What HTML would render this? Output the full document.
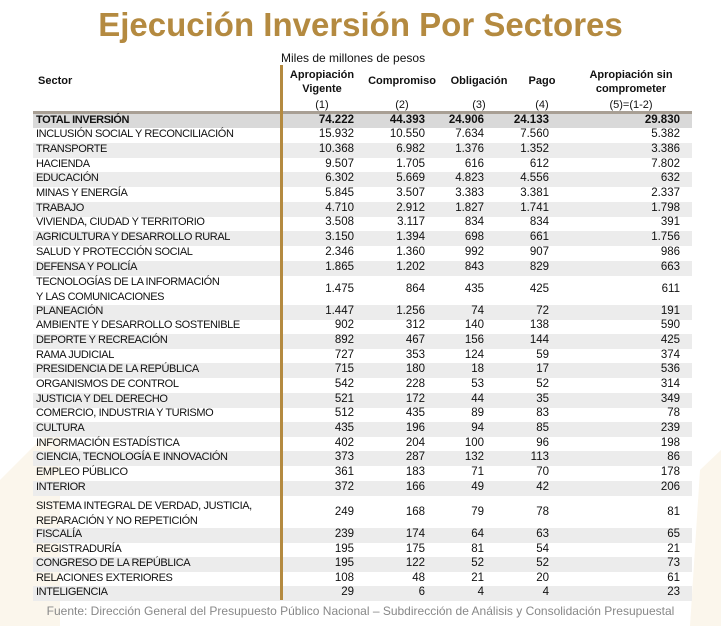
<!DOCTYPE html>
<html><head><meta charset="utf-8"><style>
body{margin:0;width:721px;height:626px;background:#fff;position:relative;overflow:hidden;font-family:"Liberation Sans",Arial,sans-serif;}
.t{position:absolute;left:0;width:721px;top:6px;text-align:center;}
.t span{display:inline-block;font-weight:bold;font-size:33px;color:#b48a40;}
.r{position:absolute;left:33px;width:659px;font-size:11px;color:#111;}
.r div{position:absolute;top:0;}
.n{letter-spacing:-0.4px;left:3px;white-space:nowrap;}
.c1,.c2,.c3,.c4,.c5{text-align:right;width:80px;font-size:11.5px;}
.c1{left:241px}.c2{left:312px}.c3{left:371px}.c4{left:436px}.c5{left:567px}
.g{background:#ececec}
.h{position:absolute;font-size:11px;font-weight:bold;text-align:center;color:#111;}
.p{position:absolute;font-size:11px;text-align:center;color:#111;top:99px;}
</style></head><body>
<svg style="position:absolute;left:0;top:0" width="721" height="626"><path d="M0 480 L60 420 L60 626 L0 626Z" fill="#fbf6ec"/><path d="M700 470 L721 450 L721 626 L690 626Z" fill="#fbf6ec"/></svg>
<div class="t"><span>Ejecución Inversión Por Sectores</span></div>
<div style="position:absolute;left:281px;top:51px;font-size:12px;color:#111">Miles de millones de pesos</div>
<div class="h" style="left:38px;top:75px">Sector</div>
<div class="h" style="left:284px;top:68px;width:76px;line-height:14px">Apropiación<br>Vigente</div>
<div class="h" style="left:362px;top:75px;width:80px">Compromiso</div>
<div class="h" style="left:445px;top:75px;width:68px">Obligación</div>
<div class="h" style="left:517px;top:75px;width:50px">Pago</div>
<div class="h" style="left:576px;top:68px;width:110px;line-height:14px">Apropiación sin<br>comprometer</div>
<div class="p" style="left:284px;width:76px">(1)</div>
<div class="p" style="left:362px;width:80px">(2)</div>
<div class="p" style="left:445px;width:68px">(3)</div>
<div class="p" style="left:517px;width:50px">(4)</div>
<div class="p" style="left:576px;width:110px">(5)=(1-2)</div>
<div style="position:absolute;left:33px;top:111px;width:659px;height:3px;background:#a89f94"></div>
<div style="position:absolute;left:0;width:721px;top:604px;text-align:center;font-size:12px;color:#888">Fuente: Dirección General del Presupuesto Público Nacional – Subdirección de Análisis y Consolidación Presupuestal</div>
<div class="r g" style="top:114px;height:14px;font-weight:bold;background:#d9d9d9"><div class="n">TOTAL INVERSIÓN</div><div class="c1">74.222</div><div class="c2">44.393</div><div class="c3">24.906</div><div class="c4">24.133</div><div class="c5">29.830</div></div>
<div class="r" style="top:128px;height:15px"><div class="n">INCLUSIÓN SOCIAL Y RECONCILIACIÓN</div><div class="c1">15.932</div><div class="c2">10.550</div><div class="c3">7.634</div><div class="c4">7.560</div><div class="c5">5.382</div></div>
<div class="r g" style="top:143px;height:15px"><div class="n">TRANSPORTE</div><div class="c1">10.368</div><div class="c2">6.982</div><div class="c3">1.376</div><div class="c4">1.352</div><div class="c5">3.386</div></div>
<div class="r" style="top:158px;height:15px"><div class="n">HACIENDA</div><div class="c1">9.507</div><div class="c2">1.705</div><div class="c3">616</div><div class="c4">612</div><div class="c5">7.802</div></div>
<div class="r g" style="top:172px;height:15px"><div class="n">EDUCACIÓN</div><div class="c1">6.302</div><div class="c2">5.669</div><div class="c3">4.823</div><div class="c4">4.556</div><div class="c5">632</div></div>
<div class="r" style="top:187px;height:15px"><div class="n">MINAS Y ENERGÍA</div><div class="c1">5.845</div><div class="c2">3.507</div><div class="c3">3.383</div><div class="c4">3.381</div><div class="c5">2.337</div></div>
<div class="r g" style="top:202px;height:15px"><div class="n">TRABAJO</div><div class="c1">4.710</div><div class="c2">2.912</div><div class="c3">1.827</div><div class="c4">1.741</div><div class="c5">1.798</div></div>
<div class="r" style="top:216px;height:15px"><div class="n">VIVIENDA, CIUDAD Y TERRITORIO</div><div class="c1">3.508</div><div class="c2">3.117</div><div class="c3">834</div><div class="c4">834</div><div class="c5">391</div></div>
<div class="r g" style="top:231px;height:15px"><div class="n">AGRICULTURA Y DESARROLLO RURAL</div><div class="c1">3.150</div><div class="c2">1.394</div><div class="c3">698</div><div class="c4">661</div><div class="c5">1.756</div></div>
<div class="r" style="top:246px;height:15px"><div class="n">SALUD Y PROTECCIÓN SOCIAL</div><div class="c1">2.346</div><div class="c2">1.360</div><div class="c3">992</div><div class="c4">907</div><div class="c5">986</div></div>
<div class="r g" style="top:261px;height:15px"><div class="n">DEFENSA Y POLICÍA</div><div class="c1">1.865</div><div class="c2">1.202</div><div class="c3">843</div><div class="c4">829</div><div class="c5">663</div></div>
<div class="r" style="top:275px;height:30px"><div class="n" style="line-height:15px">TECNOLOGÍAS DE LA INFORMACIÓN<br>Y LAS COMUNICACIONES</div><div class="c1" style="top:8px">1.475</div><div class="c2" style="top:8px">864</div><div class="c3" style="top:8px">435</div><div class="c4" style="top:8px">425</div><div class="c5" style="top:8px">611</div></div>
<div class="r g" style="top:305px;height:15px"><div class="n">PLANEACIÓN</div><div class="c1">1.447</div><div class="c2">1.256</div><div class="c3">74</div><div class="c4">72</div><div class="c5">191</div></div>
<div class="r" style="top:319px;height:15px"><div class="n">AMBIENTE Y DESARROLLO SOSTENIBLE</div><div class="c1">902</div><div class="c2">312</div><div class="c3">140</div><div class="c4">138</div><div class="c5">590</div></div>
<div class="r g" style="top:334px;height:15px"><div class="n">DEPORTE Y RECREACIÓN</div><div class="c1">892</div><div class="c2">467</div><div class="c3">156</div><div class="c4">144</div><div class="c5">425</div></div>
<div class="r" style="top:349px;height:15px"><div class="n">RAMA JUDICIAL</div><div class="c1">727</div><div class="c2">353</div><div class="c3">124</div><div class="c4">59</div><div class="c5">374</div></div>
<div class="r g" style="top:363px;height:15px"><div class="n">PRESIDENCIA DE LA REPÚBLICA</div><div class="c1">715</div><div class="c2">180</div><div class="c3">18</div><div class="c4">17</div><div class="c5">536</div></div>
<div class="r" style="top:378px;height:15px"><div class="n">ORGANISMOS DE CONTROL</div><div class="c1">542</div><div class="c2">228</div><div class="c3">53</div><div class="c4">52</div><div class="c5">314</div></div>
<div class="r g" style="top:393px;height:15px"><div class="n">JUSTICIA Y DEL DERECHO</div><div class="c1">521</div><div class="c2">172</div><div class="c3">44</div><div class="c4">35</div><div class="c5">349</div></div>
<div class="r" style="top:407px;height:15px"><div class="n">COMERCIO, INDUSTRIA Y TURISMO</div><div class="c1">512</div><div class="c2">435</div><div class="c3">89</div><div class="c4">83</div><div class="c5">78</div></div>
<div class="r g" style="top:422px;height:15px"><div class="n">CULTURA</div><div class="c1">435</div><div class="c2">196</div><div class="c3">94</div><div class="c4">85</div><div class="c5">239</div></div>
<div class="r" style="top:437px;height:15px"><div class="n">INFORMACIÓN ESTADÍSTICA</div><div class="c1">402</div><div class="c2">204</div><div class="c3">100</div><div class="c4">96</div><div class="c5">198</div></div>
<div class="r g" style="top:451px;height:15px"><div class="n">CIENCIA, TECNOLOGÍA E INNOVACIÓN</div><div class="c1">373</div><div class="c2">287</div><div class="c3">132</div><div class="c4">113</div><div class="c5">86</div></div>
<div class="r" style="top:466px;height:15px"><div class="n">EMPLEO PÚBLICO</div><div class="c1">361</div><div class="c2">183</div><div class="c3">71</div><div class="c4">70</div><div class="c5">178</div></div>
<div class="r g" style="top:481px;height:15px"><div class="n">INTERIOR</div><div class="c1">372</div><div class="c2">166</div><div class="c3">49</div><div class="c4">42</div><div class="c5">206</div></div>
<div class="r" style="top:496px;height:32px"><div class="n" style="top:3px;line-height:15px">SISTEMA INTEGRAL DE VERDAD, JUSTICIA,<br>REPARACIÓN Y NO REPETICIÓN</div><div class="c1" style="top:10px">249</div><div class="c2" style="top:10px">168</div><div class="c3" style="top:10px">79</div><div class="c4" style="top:10px">78</div><div class="c5" style="top:10px">81</div></div>
<div class="r g" style="top:528px;height:15px"><div class="n">FISCALÍA</div><div class="c1">239</div><div class="c2">174</div><div class="c3">64</div><div class="c4">63</div><div class="c5">65</div></div>
<div class="r" style="top:543px;height:14px"><div class="n">REGISTRADURÍA</div><div class="c1">195</div><div class="c2">175</div><div class="c3">81</div><div class="c4">54</div><div class="c5">21</div></div>
<div class="r g" style="top:557px;height:15px"><div class="n">CONGRESO DE LA REPÚBLICA</div><div class="c1">195</div><div class="c2">122</div><div class="c3">52</div><div class="c4">52</div><div class="c5">73</div></div>
<div class="r" style="top:572px;height:14px"><div class="n">RELACIONES EXTERIORES</div><div class="c1">108</div><div class="c2">48</div><div class="c3">21</div><div class="c4">20</div><div class="c5">61</div></div>
<div class="r g" style="top:586px;height:15px"><div class="n">INTELIGENCIA</div><div class="c1">29</div><div class="c2">6</div><div class="c3">4</div><div class="c4">4</div><div class="c5">23</div></div>
<div style="position:absolute;left:280px;top:65px;width:3px;height:535px;background:#b48a40"></div>
</body></html>
